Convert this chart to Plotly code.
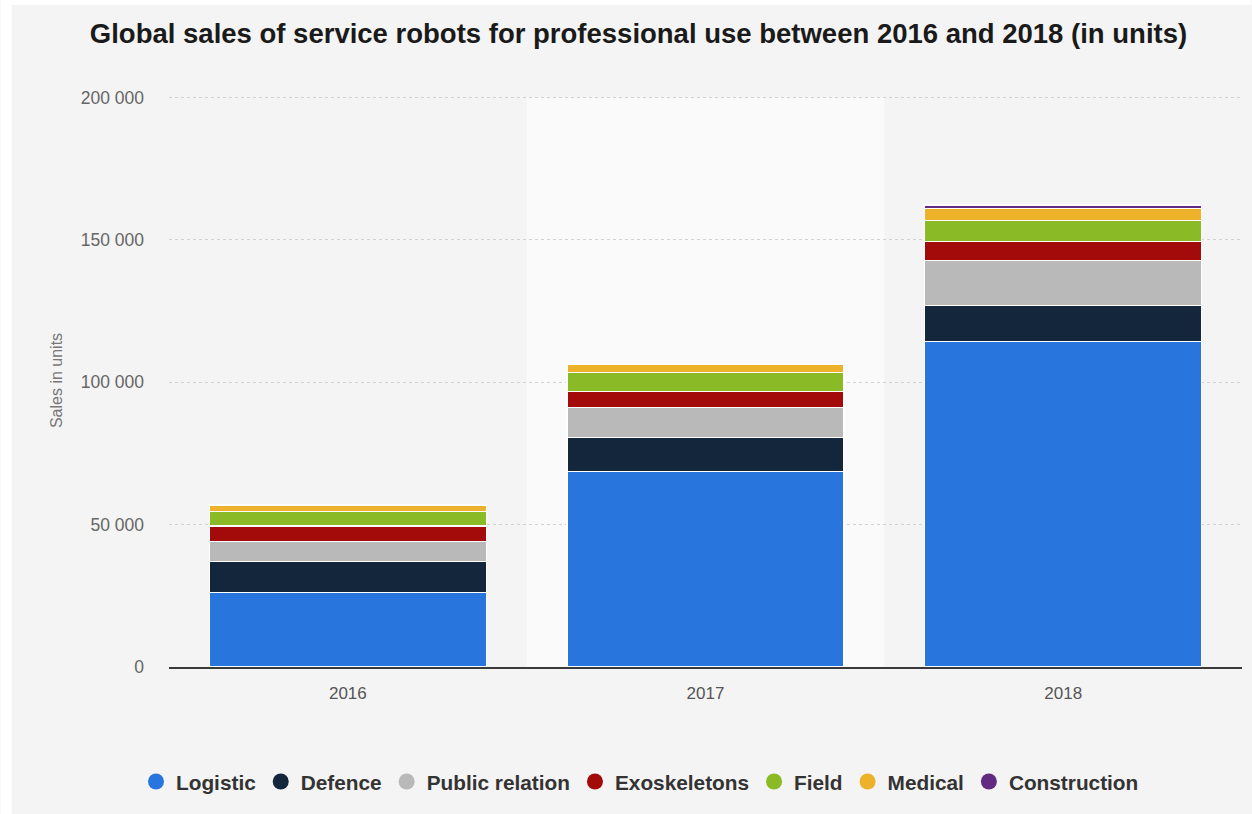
import plotly.graph_objects as go

# Sales of professional service robots by application (units)
years = ["2016", "2017", "2018"]
logistic = [26100, 68600, 114200]
defence = [10900, 12100, 12700]
public_relation = [7000, 10500, 15800]
exoskeletons = [5500, 5500, 6700]
field = [5000, 6800, 7300]
medical = [2400, 2800, 4200]
construction = [None, None, 1300]

series_names = ["Logistic", "Defence", "Public relation", "Exoskeletons",
                "Field", "Medical", "Construction"]
series_values = [logistic, defence, public_relation, exoskeletons,
                 field, medical, construction]
series_colors = ["#2876dd", "#13263c", "#b9b9b9", "#a30b0b",
                 "#8aba25", "#eeb12a", "#622a80"]

W, H = 1252, 814
Y_TOP = 201200
ML, MR, MB = 168.5, 9.5, 147
MT = 97.5 - (Y_TOP - 200000) * (667 - 97.5) / 200000
PW, PH = W - ML - MR, H - MT - MB

FONT = "Liberation Sans, Arial, sans-serif"

fig = go.Figure()

for name, vals, col in zip(series_names, series_values, series_colors):
    fig.add_trace(go.Bar(
        x=years, y=vals, name=name, showlegend=False,
        marker=dict(color=col, line=dict(color="white", width=1.2)),
        hovertemplate="%{x}: %{y:,}<extra>" + name + "</extra>",
    ))

# round legend markers
for name, col in zip(series_names, series_colors):
    fig.add_trace(go.Scatter(
        x=[None], y=[None], mode="markers", name=name,
        marker=dict(color=col, size=22, symbol="circle"),
        hoverinfo="skip",
    ))


def px_x(px):
    return (px - ML) / PW


def px_y(py):
    return (H - MB - py) / PH


shapes = [
    # white frame strips along the top and left edges
    dict(type="rect", xref="paper", yref="paper", layer="below",
         x0=px_x(0), x1=px_x(W), y0=px_y(5), y1=px_y(0),
         fillcolor="white", line=dict(width=0)),
    dict(type="rect", xref="paper", yref="paper", layer="below",
         x0=px_x(0), x1=px_x(11), y0=px_y(H), y1=px_y(0),
         fillcolor="white", line=dict(width=0)),
    # highlighted middle column
    dict(type="rect", xref="x", yref="y", layer="below",
         x0=0.5, x1=1.5, y0=0, y1=200000,
         fillcolor="#fafafa", line=dict(width=0)),
]

fig.update_layout(
    width=W, height=H,
    margin=dict(l=ML, r=MR, t=MT, b=MB, autoexpand=False),
    barmode="stack",
    bargap=0.226,
    paper_bgcolor="#f4f4f4",
    plot_bgcolor="rgba(0,0,0,0)",
    separators=". ",
    shapes=shapes,
    font=dict(family=FONT, color="#666666"),
    title=dict(
        text="<b>Global sales of service robots for professional use between 2016 and 2018 (in units)</b>",
        font=dict(family=FONT, size=27.5, color="#1a1a1a"),
        xref="container", x=638.5 / W, xanchor="center",
        yref="container", y=1 - 33 / H, yanchor="middle",
    ),
    xaxis=dict(
        type="category",
        showline=True, linecolor="#3a3a3a", linewidth=2,
        showgrid=False, ticks="",
        tickfont=dict(family=FONT, size=17, color="#555555"),
        ticklabelstandoff=10,
    ),
    yaxis=dict(
        range=[0, Y_TOP],
        tickvals=[0, 50000, 100000, 150000, 200000],
        tickformat=",d",
        showgrid=True, gridcolor="#d2d2d2", griddash="dot", gridwidth=1,
        zeroline=False, showline=False, ticks="",
        tickfont=dict(family=FONT, size=17.5, color="#666666"),
        ticklabelstandoff=24,
        title=dict(text="Sales in units", standoff=14,
                   font=dict(family=FONT, size=16, color="#777777")),
    ),
    legend=dict(
        orientation="h",
        traceorder="normal",
        xref="container", x=640 / W, xanchor="center",
        yref="container", y=1 - 782 / H, yanchor="middle",
        font=dict(family=FONT, size=20.8, color="#333333", weight="bold"),
        bgcolor="rgba(0,0,0,0)",
    ),
)

fig.write_html("out.html")
